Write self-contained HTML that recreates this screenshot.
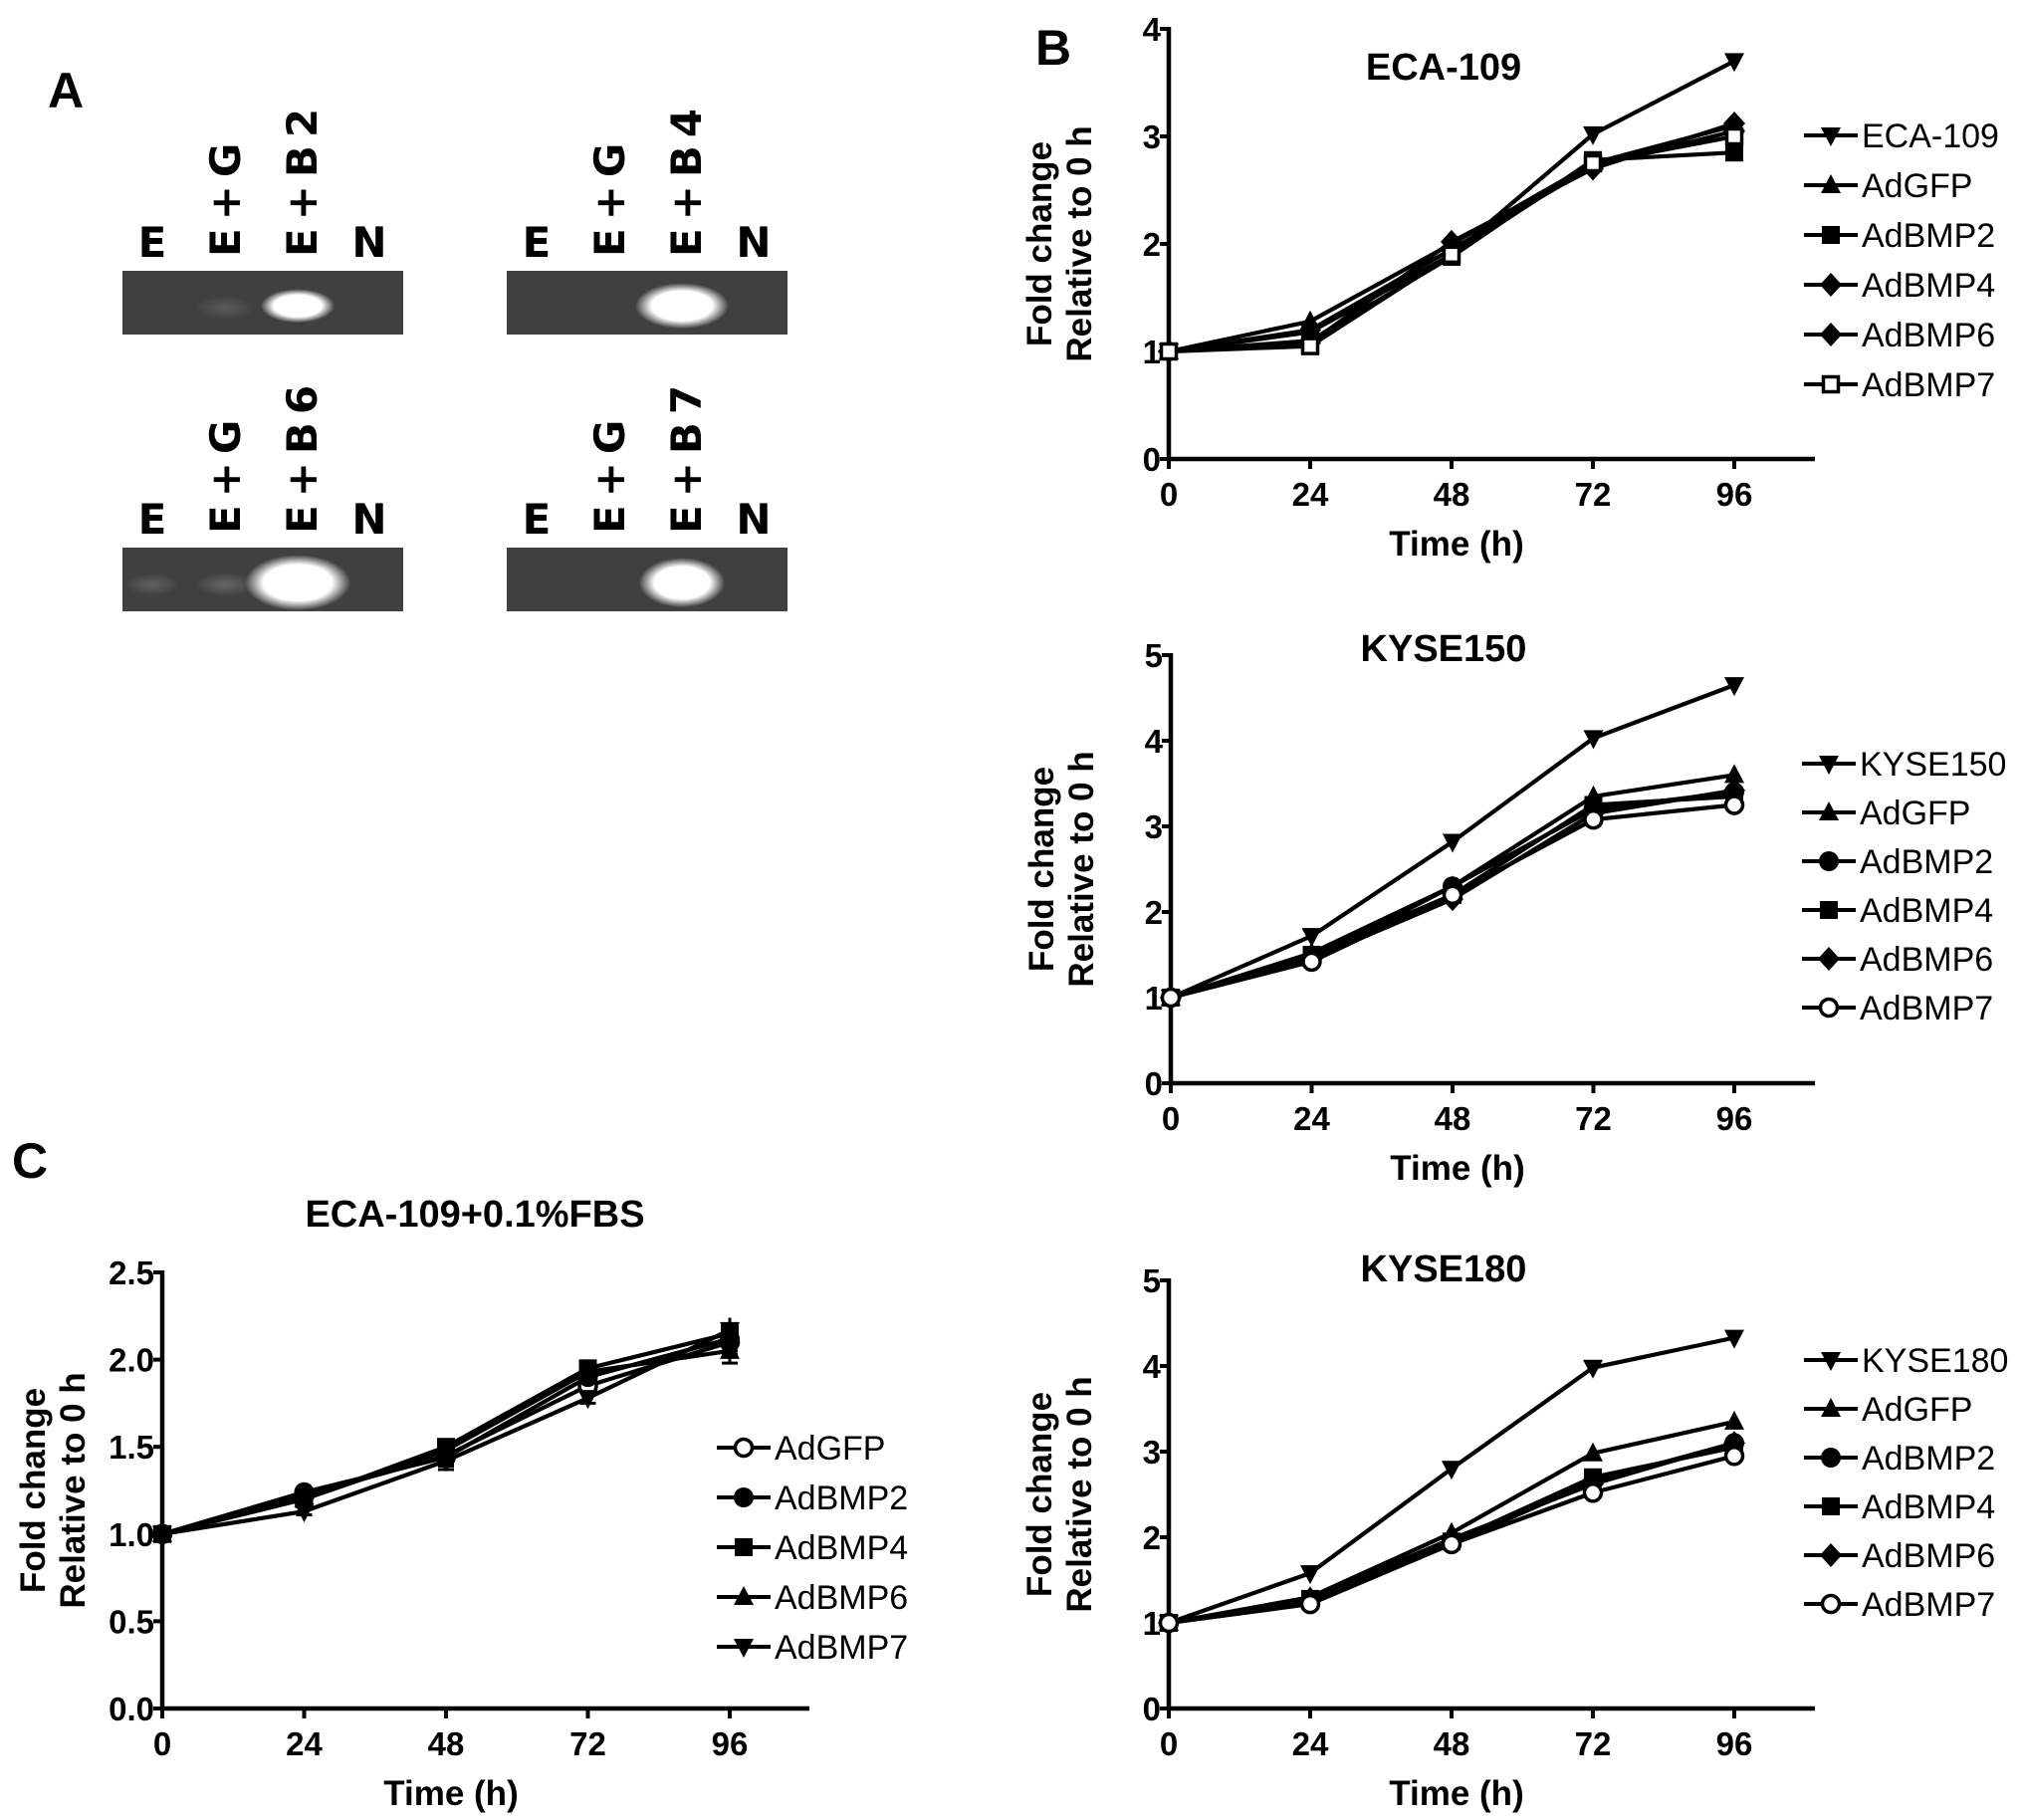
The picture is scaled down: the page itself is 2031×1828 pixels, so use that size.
<!DOCTYPE html>
<html><head><meta charset="utf-8">
<style>
html,body{margin:0;padding:0;background:#fff;}
svg{display:block;font-family:"Liberation Sans",Arial,sans-serif;}
.tk{font-weight:bold;font-size:33px;}
.lg{font-size:34px;}
.ttl{font-weight:bold;font-size:38px;}
.ax{font-weight:bold;font-size:35px;}
.pl{font-weight:bold;font-size:50px;}
.gl{font-family:"DejaVu Sans","Liberation Sans",sans-serif;font-weight:bold;font-size:42px;}
</style></head>
<body>
<svg id="fig" width="2031" height="1828" viewBox="0 0 2031 1828" xmlns="http://www.w3.org/2000/svg">
<defs>
<radialGradient id="band"><stop offset="0" stop-color="#fff"/><stop offset="0.65" stop-color="#fff"/><stop offset="1" stop-color="#fff" stop-opacity="0"/></radialGradient>
<radialGradient id="faint"><stop offset="0" stop-color="#777"/><stop offset="1" stop-color="#777" stop-opacity="0"/></radialGradient>
</defs>
<text class="pl" x="48" y="108">A</text>
<text class="pl" x="1040" y="65">B</text>
<text class="pl" x="12" y="1183">C</text>
<g id="gels"></g>
<g id="charts"></g>
</svg>
<script>
// ---- chart data ----
const timeCats = [0, 24, 48, 72, 96];

const ecaNames = ["ECA-109","AdGFP","AdBMP2","AdBMP4","AdBMP6","AdBMP7"];
const ecaMarkers = ["tdown","tup","sq","dia","dia","osq"];
const ecaVals0 = [1, 1.18, 1.90, 3.02, 3.70];
const ecaVals1 = [1, 1.28, 2.00, 2.75, 3.10];
const ecaVals2 = [1, 1.10, 1.88, 2.78, 2.85];
const ecaVals3 = [1, 1.08, 2.02, 2.70, 3.12];
const ecaVals4 = [1, 1.20, 1.95, 2.72, 3.05];
const ecaVals5 = [1, 1.05, 1.90, 2.75, 3.00];
const ecaTicks = ["0","1","2","3","4"];

const k150Names = ["KYSE150","AdGFP","AdBMP2","AdBMP4","AdBMP6","AdBMP7"];
const k150Markers = ["tdown","tup","circ","sq","dia","ocirc"];
const k150Vals0 = [1, 1.72, 2.82, 4.03, 4.65];
const k150Vals1 = [1, 1.52, 2.30, 3.35, 3.60];
const k150Vals2 = [1, 1.45, 2.30, 3.20, 3.40];
const k150Vals3 = [1, 1.50, 2.20, 3.25, 3.35];
const k150Vals4 = [1, 1.45, 2.15, 3.15, 3.42];
const k150Vals5 = [1, 1.42, 2.20, 3.08, 3.25];
const k150Ticks = ["0","1","2","3","4","5"];

const k180Names = ["KYSE180","AdGFP","AdBMP2","AdBMP4","AdBMP6","AdBMP7"];
const k180Markers = ["tdown","tup","circ","sq","dia","ocirc"];
const k180Vals0 = [1, 1.58, 2.80, 3.98, 4.33];
const k180Vals1 = [1, 1.30, 2.05, 2.98, 3.35];
const k180Vals2 = [1, 1.25, 1.92, 2.65, 3.10];
const k180Vals3 = [1, 1.28, 1.95, 2.70, 3.05];
const k180Vals4 = [1, 1.28, 1.98, 2.62, 3.10];
const k180Vals5 = [1, 1.22, 1.92, 2.52, 2.95];
const k180Ticks = ["0","1","2","3","4","5"];

const fbsNames = ["AdGFP","AdBMP2","AdBMP4","AdBMP6","AdBMP7"];
const fbsMarkers = ["ocirc","circ","sq","tup","tdown"];
const fbsVals0 = [1, 1.22, 1.45, 1.85, 2.10];
const fbsVals1 = [1, 1.24, 1.44, 1.90, 2.12];
const fbsVals2 = [1, 1.20, 1.50, 1.95, 2.15];
const fbsVals3 = [1, 1.20, 1.48, 1.93, 2.05];
const fbsVals4 = [1, 1.13, 1.42, 1.78, 2.17];
const fbsErr = [0, 0.02, 0.05, 0.03, 0.07];
const fbsTicks = ["0.0","0.5","1.0","1.5","2.0","2.5"];

const NS = "http://www.w3.org/2000/svg";
function mk(tag, attrs, parent){const e=document.createElementNS(NS,tag);for(const k in attrs)e.setAttribute(k,attrs[k]);parent.appendChild(e);return e;}

function marker(type, cx, cy, g){
  const s=9;let e;
  if(type==="tdown") e=mk("polygon",{points:`${cx-s-1},${cy-s+1} ${cx+s+1},${cy-s+1} ${cx},${cy+s+2}`,fill:"#000"},g);
  else if(type==="tup") e=mk("polygon",{points:`${cx-s-1},${cy+s-1} ${cx+s+1},${cy+s-1} ${cx},${cy-s-2}`,fill:"#000"},g);
  else if(type==="sq") e=mk("rect",{x:cx-s,y:cy-s,width:2*s,height:2*s,fill:"#000"},g);
  else if(type==="osq") e=mk("rect",{x:cx-s+1.5,y:cy-s+1.5,width:2*s-3,height:2*s-3,fill:"#fff",stroke:"#000","stroke-width":3.5},g);
  else if(type==="dia") e=mk("polygon",{points:`${cx},${cy-s-3} ${cx+s+2},${cy} ${cx},${cy+s+3} ${cx-s-2},${cy}`,fill:"#000"},g);
  else if(type==="circ") e=mk("circle",{cx:cx,cy:cy,r:s+1,fill:"#000"},g);
  else e=mk("circle",{cx:cx,cy:cy,r:s-0.5,fill:"#fff",stroke:"#000","stroke-width":3.5},g);
  
  
}

function chart(cfg){
  const root=document.getElementById("charts");
  const g=mk("g",{},root);
  
  
  const X=v=>cfg.x0+(v/96)*(cfg.x96-cfg.x0);
  const Y=v=>cfg.y0-(v/cfg.ymax)*(cfg.y0-cfg.ytop);
  const ya=mk("line",{x1:cfg.x0,y1:cfg.y0+2,x2:cfg.x0,y2:cfg.ytop-2,stroke:"#000","stroke-width":4.5},g);
  
  const xa=mk("line",{x1:cfg.x0-2,y1:cfg.y0,x2:cfg.xend,y2:cfg.y0,stroke:"#000","stroke-width":4.5},g);
  
  cfg.ticks.forEach((t,i)=>{
    const v=i*cfg.ymax/(cfg.ticks.length-1), yy=Y(v);
    mk("line",{x1:cfg.x0-9,y1:yy,x2:cfg.x0,y2:yy,stroke:"#000","stroke-width":4},g);
    const tx=mk("text",{x:cfg.x0-8,y:yy+12,"text-anchor":"end",class:"tk"},g);
    tx.textContent=t;
    
  });
  timeCats.forEach(c=>{
    const xx=X(c);
    mk("line",{x1:xx,y1:cfg.y0,x2:xx,y2:cfg.y0+10,stroke:"#000","stroke-width":4},g);
    const tx=mk("text",{x:xx,y:cfg.y0+47,"text-anchor":"middle",class:"tk"},g);
    tx.textContent=c;
    
  });
  const xt=mk("text",{x:(cfg.x0+cfg.x96)/2+5,y:cfg.y0+97,"text-anchor":"middle",class:"ax"},g);
  xt.textContent="Time (h)";
  
  const yc=(cfg.y0+cfg.ytop)/2;
  const yt=mk("text",{x:0,y:0,"text-anchor":"middle",class:"ax",transform:`translate(${cfg.x0-118},${yc}) rotate(-90)`},g);
  yt.textContent="Fold change";
  
  const yt2=mk("text",{x:0,y:0,"text-anchor":"middle",class:"ax",transform:`translate(${cfg.x0-78},${yc}) rotate(-90)`},g);
  yt2.textContent="Relative to 0 h";
  
  const tt=mk("text",{x:cfg.tx,y:cfg.ty,"text-anchor":"middle",class:"ttl"},g);
  tt.textContent=cfg.title;
  
  cfg.series.forEach((vals,si)=>{
    const sg=mk("g",{},g);
    
    
    const pts=vals.map((v,i)=>X(timeCats[i])+","+Y(v)).join(" ");
    mk("polyline",{points:pts,fill:"none",stroke:"#000","stroke-width":4.2,"stroke-linejoin":"round"},sg);
    if(cfg.err){
      vals.forEach((v,i)=>{ if(cfg.err[i]>0){const xx=X(timeCats[i]);
        mk("line",{x1:xx,y1:Y(v-cfg.err[i]),x2:xx,y2:Y(v+cfg.err[i]),stroke:"#000","stroke-width":3},sg);
        mk("line",{x1:xx-8,y1:Y(v-cfg.err[i]),x2:xx+8,y2:Y(v-cfg.err[i]),stroke:"#000","stroke-width":3},sg);}});
    }
    vals.forEach((v,i)=>marker(cfg.markers[si],X(timeCats[i]),Y(v),sg));
    const ly=cfg.ly0+si*cfg.ldy;
    const lg=mk("g",{},g);
    
    
    mk("line",{x1:cfg.lx,y1:ly,x2:cfg.lx+54,y2:ly,stroke:"#000","stroke-width":4},lg);
    marker(cfg.markers[si],cfg.lx+27,ly,lg);
    const lt=mk("text",{x:cfg.lx+58,y:ly+12,class:"lg"},lg);
    lt.textContent=cfg.names[si];
  });
}

chart({name:"chart-eca109",title:"ECA-109",tx:1450,ty:80,x0:1174,x96:1742,xend:1823,y0:461,ytop:29,ymax:4,ticks:ecaTicks,
  names:ecaNames,markers:ecaMarkers,series:[ecaVals0,ecaVals1,ecaVals2,ecaVals3,ecaVals4,ecaVals5],lx:1812,ly0:136,ldy:50});
chart({name:"chart-kyse150",title:"KYSE150",tx:1450,ty:664,x0:1176,x96:1742,xend:1823,y0:1088,ytop:658,ymax:5,ticks:k150Ticks,
  names:k150Names,markers:k150Markers,series:[k150Vals0,k150Vals1,k150Vals2,k150Vals3,k150Vals4,k150Vals5],lx:1810,ly0:767,ldy:49});
chart({name:"chart-kyse180",title:"KYSE180",tx:1450,ty:1287,x0:1174,x96:1742,xend:1823,y0:1716,ytop:1286,ymax:5,ticks:k180Ticks,
  names:k180Names,markers:k180Markers,series:[k180Vals0,k180Vals1,k180Vals2,k180Vals3,k180Vals4,k180Vals5],lx:1812,ly0:1366,ldy:49});
chart({name:"chart-eca109-fbs",title:"ECA-109+0.1%FBS",tx:477,ty:1232,x0:163,x96:733,xend:813,y0:1716,ytop:1278,ymax:2.5,ticks:fbsTicks,
  names:fbsNames,markers:fbsMarkers,series:[fbsVals0,fbsVals1,fbsVals2,fbsVals3,fbsVals4],err:fbsErr,lx:720,ly0:1454,ldy:50});

// ---- gels ----
const gelLabels = ["B2","B4","B6","B7"];
const gelPos = [[123,272],[509,272],[123,550],[509,550]];
const gelBands = [[1,0.25,58,22,0.9],[1,0.0,78,34,1],[1,0.35,90,44,1],[1,0.0,70,38,1]];
const G=document.getElementById("gels");
gelPos.forEach((p,gi)=>{
  const gg=mk("g",{},G);
  
  
  const gx=p[0], gy=p[1], w=282, h=64;
  mk("rect",{x:gx,y:gy,width:w,height:h,fill:"#404040"},gg);
  const lanes=[gx+30,gx+103,gx+180,gx+248];
  if(gelBands[gi][1]>0){
    mk("ellipse",{cx:lanes[1],cy:gy+h*0.58,rx:30,ry:12,fill:"url(#faint)",opacity:gelBands[gi][1]*2},gg);
    if(gi===2) mk("ellipse",{cx:lanes[0],cy:gy+h*0.58,rx:28,ry:11,fill:"url(#faint)",opacity:0.6},gg);
  }
  const b=gelBands[gi];
  mk("ellipse",{cx:lanes[2]-4,cy:gy+h*0.55,rx:b[2]/2+8,ry:b[3]/2+6,fill:"url(#band)"},gg);
  const labs=["E","E+G","E+"+gelLabels[gi],"N"];
  labs.forEach((l,li)=>{
    let t;
    if(li===0||li===3){
      t=mk("text",{x:lanes[li],y:gy-14,"text-anchor":"middle",class:"gl"},gg);
    } else {
      t=mk("text",{x:0,y:0,"text-anchor":"start",class:"gl",transform:`translate(${lanes[li]+15},${gy-14}) rotate(-90)`,"letter-spacing":"8"},gg);
    }
    t.textContent=l;
    
    
  });
});
</script>
</body></html>
